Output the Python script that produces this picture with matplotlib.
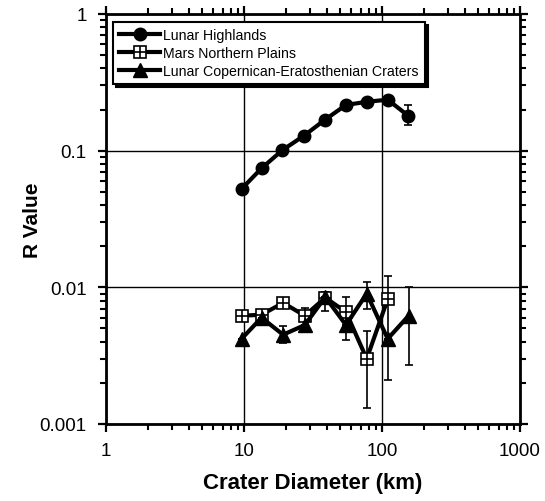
import numpy as np
import matplotlib
matplotlib.use("Agg")
from matplotlib import pyplot as plt
from matplotlib.ticker import LogLocator, NullFormatter, FixedLocator, FixedFormatter

plt.rcParams['font.family'] = ['Liberation Sans', 'DejaVu Sans']

# Lunar highlands
hl_d = [9.6, 13.4, 19.0, 27.3, 38.8, 54.8, 78.0, 110.0, 155.0]
hl_r = [0.0525, 0.0743, 0.101, 0.129, 0.169, 0.216, 0.228, 0.236, 0.180]
hl_lo = [0.0525, 0.0743, 0.101, 0.129, 0.169, 0.216, 0.228, 0.236, 0.153]
hl_hi = [0.0525, 0.0743, 0.101, 0.129, 0.169, 0.216, 0.228, 0.236, 0.216]

# Mars northern plains
mp_d = [9.6, 13.4, 19.2, 27.6, 38.8, 54.8, 77.5, 110.0]
mp_r = [0.0062, 0.0063, 0.0077, 0.0062, 0.0084, 0.0066, 0.0030, 0.0082]
mp_lo = [0.0062, 0.0063, 0.0077, 0.0051, 0.0067, 0.0041, 0.0013, 0.0021]
mp_hi = [0.0062, 0.0063, 0.0077, 0.0071, 0.0093, 0.0085, 0.0048, 0.0122]

# Lunar Copernican-Eratosthenian craters
ce_d = [9.6, 13.4, 19.2, 27.6, 38.8, 54.8, 77.5, 110.0, 156.0]
ce_r = [0.0042, 0.0060, 0.0045, 0.0053, 0.0085, 0.0053, 0.0090, 0.0042, 0.0062]
ce_lo = [0.0042, 0.0060, 0.0039, 0.0053, 0.0085, 0.0053, 0.0069, 0.0042, 0.0027]
ce_hi = [0.0042, 0.0060, 0.0052, 0.0053, 0.0085, 0.0053, 0.0110, 0.0042, 0.0100]

x_ticks = [1, 10, 100, 1000]
x_labels = ["1", "10", "100", "1000"]
y_ticks = [0.001, 0.01, 0.1, 1]
y_labels = ["0.001", "0.01", "0.1", "1"]


def yerr(r, lo, hi):
    r = np.array(r)
    return [r - np.array(lo), np.array(hi) - r]


fig = plt.figure(figsize=(5.45, 5.02), dpi=100)
ax = fig.add_axes([106 / 545, 1 - 425 / 502, 414 / 545, 410 / 502])

lw = 3.0
e1 = ax.errorbar(hl_d, hl_r, yerr=yerr(hl_r, hl_lo, hl_hi), color="black", lw=lw,
                 marker="o", ms=9, elinewidth=1.2, capsize=3, capthick=1.2, zorder=5)
e2 = ax.errorbar(mp_d, mp_r, yerr=yerr(mp_r, mp_lo, mp_hi), color="black", lw=lw,
                 marker="s", ms=8.5, mfc="white", mec="black", mew=1.2,
                 elinewidth=1.2, capsize=3, capthick=1.2, zorder=4)
mp_plus, = ax.plot(mp_d, mp_r, ls="none", marker="+", ms=8.5, mew=1.2,
                   color="black", zorder=6)
e3 = ax.errorbar(ce_d, ce_r, yerr=yerr(ce_r, ce_lo, ce_hi), color="black", lw=lw,
                 marker="^", ms=10, elinewidth=1.2, capsize=3, capthick=1.2, zorder=5)

ax.set_xscale("log")
ax.set_yscale("log")
ax.set_xlim(1, 1000)
ax.set_ylim(0.001, 1)

ax.xaxis.set_major_locator(FixedLocator(x_ticks))
ax.xaxis.set_major_formatter(FixedFormatter(x_labels))
ax.yaxis.set_major_locator(FixedLocator(y_ticks))
ax.yaxis.set_major_formatter(FixedFormatter(y_labels))
ax.xaxis.set_minor_locator(LogLocator(base=10, subs=np.arange(2, 10)))
ax.yaxis.set_minor_locator(LogLocator(base=10, subs=np.arange(2, 10)))
ax.xaxis.set_minor_formatter(NullFormatter())
ax.yaxis.set_minor_formatter(NullFormatter())

ax.tick_params(which="major", direction="out", length=6, width=1.6,
               top=True, right=True, labelsize=13.5)
ax.tick_params(axis="x", which="major", pad=7)
ax.tick_params(axis="y", which="major", pad=8)
ax.tick_params(which="minor", direction="out", length=4.5, width=1.5,
               top=True, right=True)
for s in ax.spines.values():
    s.set_linewidth(2)

ax.grid(which="major", color="black", lw=1)

ax.set_xlabel("Crater Diameter (km)", fontsize=16, fontweight="bold", labelpad=9)
ax.set_ylabel("R Value", fontsize=15, fontweight="bold", labelpad=-2)

handles = [e1[0], (e2[0], mp_plus), e3[0]]
labels = ["Lunar Highlands", "Mars Northern Plains",
          "Lunar Copernican-Eratosthenian Craters"]
leg = ax.legend(handles, labels, loc="upper left", bbox_to_anchor=(0.017, 0.9805),
                fontsize=10.2, frameon=True, fancybox=False,
                shadow={"color": "black", "alpha": 1},
                handlelength=2.9, handletextpad=0.2, borderpad=0.45,
                labelspacing=0.27, borderaxespad=0)
leg.get_frame().set_edgecolor("black")
leg.get_frame().set_linewidth(1.5)
leg.set_zorder(10)

fig.savefig("out.png", dpi=100)
